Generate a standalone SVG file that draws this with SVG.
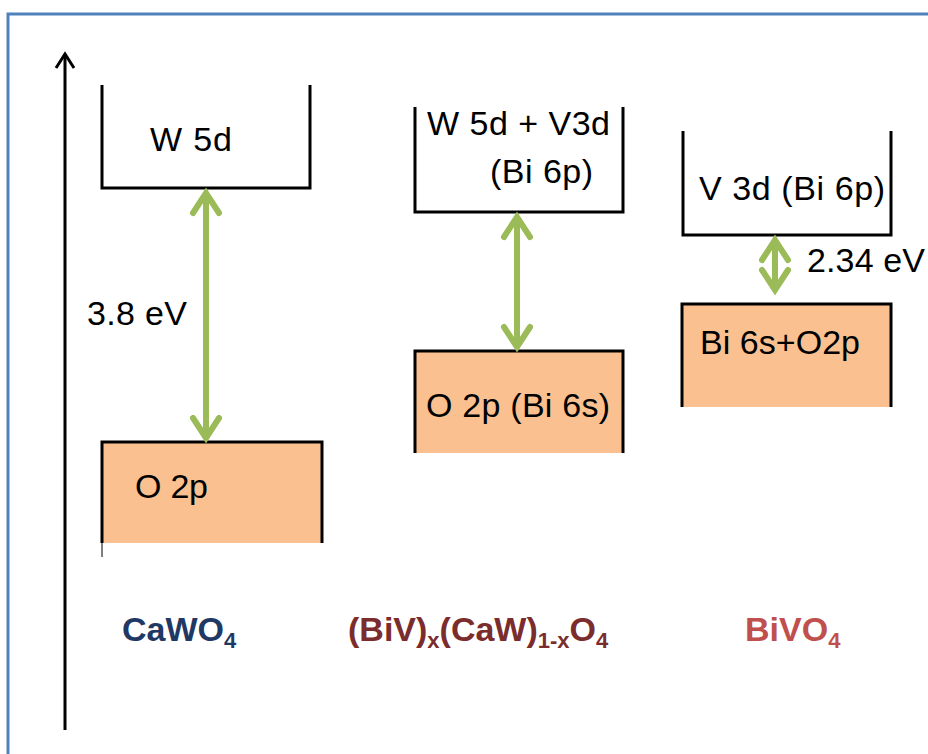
<svg xmlns="http://www.w3.org/2000/svg" width="928" height="754" viewBox="0 0 928 754">
  <style>
    .lbl { font-family: "Liberation Sans", Arial, sans-serif; font-size: 34px; fill: #000; }
    .cmp { font-family: "Liberation Sans", Arial, sans-serif; font-size: 34px; font-weight: bold; }
    .sub { font-size: 22px; }
    .edge { fill: none; stroke: #000; stroke-width: 3; }
    .band { fill: #FAC090; stroke: none; }
    .gap { fill: none; stroke: #9BBB59; stroke-width: 6; }
  </style>
  <defs>
    <marker id="chev" markerUnits="userSpaceOnUse" orient="auto-start-reverse" markerWidth="40" markerHeight="40" refX="0" refY="0" viewBox="-30 -20 40 40" overflow="visible">
      <path d="M -20,-13 L 0,0 L -20,13" fill="none" stroke="#9BBB59" stroke-width="6" stroke-linejoin="miter" stroke-linecap="round"/>
    </marker>
    <marker id="axhead" markerUnits="userSpaceOnUse" orient="auto" markerWidth="30" markerHeight="30" refX="0" refY="0" viewBox="-20 -15 30 30" overflow="visible">
      <path d="M -14,-9 L 0,0 L -14,9" fill="none" stroke="#000" stroke-width="3" stroke-linejoin="miter"/>
    </marker>
  </defs>

  <rect width="928" height="754" fill="#fff"/>
  <path d="M 8,754 V 14 H 928" fill="none" stroke="#4F81BD" stroke-width="3"/>

  <g id="cawo4-cb">
    <path class="edge" d="M 102,85 V 188 H 310 V 85"/>
    <text class="lbl" x="150" y="151" textLength="82">W 5d</text>
  </g>
  <g id="cawo4-vb">
    <rect class="band" x="102" y="442" width="220" height="101"/>
    <path class="edge" d="M 102,543 V 442 H 322 V 543"/>
    <line x1="102" y1="543" x2="102" y2="557" stroke="#555" stroke-width="1.5"/>
    <text class="lbl" x="135" y="498" textLength="73">O 2p</text>
  </g>
  <g id="cawo4-gap">
    <text class="lbl" x="87" y="325" textLength="100">3.8 eV</text>
  </g>

  <g id="mix-cb">
    <path class="edge" d="M 415,107 V 212 H 623 V 107"/>
    <text class="lbl" x="427" y="135" textLength="183">W 5d + V3d</text>
    <text class="lbl" x="490" y="183" textLength="103">(Bi 6p)</text>
  </g>
  <g id="mix-vb">
    <rect class="band" x="415" y="351" width="208" height="102"/>
    <path class="edge" d="M 415,453 V 351 H 623 V 453"/>
    <text class="lbl" x="426" y="417" textLength="184">O 2p (Bi 6s)</text>
  </g>

  <g id="bivo4-cb">
    <path class="edge" d="M 683,131 V 235 H 891 V 131"/>
    <text class="lbl" x="699" y="200" textLength="186">V 3d (Bi 6p)</text>
  </g>
  <g id="bivo4-vb">
    <rect class="band" x="682" y="304" width="209" height="103"/>
    <path class="edge" d="M 682,407 V 304 H 891 V 407"/>
    <text class="lbl" x="700" y="354" textLength="160">Bi 6s+O2p</text>
  </g>
  <g id="bivo4-gap">
    <text class="lbl" x="807" y="272" textLength="118">2.34 eV</text>
  </g>

  <g id="labels">
    <text class="cmp" x="122" y="641" fill="#1F3864">CaWO<tspan class="sub" dy="7">4</tspan></text>
    <text class="cmp" x="348" y="641" fill="#7B2C2C">(BiV)<tspan class="sub" dy="7">x</tspan><tspan dy="-7">(CaW)</tspan><tspan class="sub" dy="7">1-x</tspan><tspan dy="-7">O</tspan><tspan class="sub" dy="7">4</tspan></text>
    <text class="cmp" x="745" y="641" fill="#C0504D">BiVO<tspan class="sub" dy="7">4</tspan></text>
  </g>

  <g id="connectors">
    <line x1="65" y1="730" x2="65" y2="54" stroke="#000" stroke-width="3" marker-end="url(#axhead)"/>
    <line class="gap" x1="206" y1="193" x2="206" y2="438" marker-start="url(#chev)" marker-end="url(#chev)"/>
    <line class="gap" x1="517" y1="217" x2="517" y2="347" marker-start="url(#chev)" marker-end="url(#chev)"/>
    <line class="gap" x1="775" y1="240" x2="775" y2="290" marker-start="url(#chev)" marker-end="url(#chev)"/>
  </g>
</svg>
